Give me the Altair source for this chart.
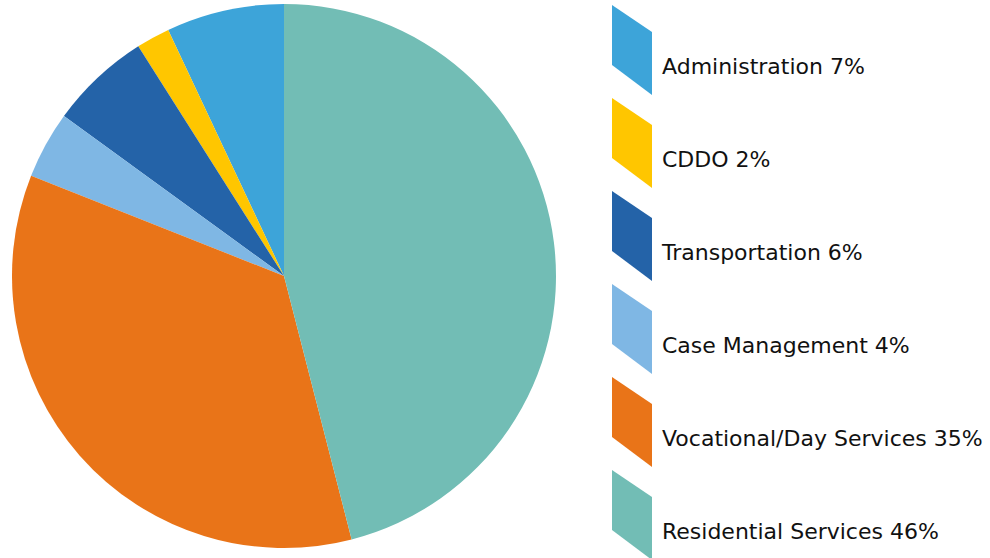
import altair as alt
import pandas as pd

categories = ["Administration", "CDDO", "Transportation", "Case Management",
              "Vocational/Day Services", "Residential Services"]
percents = [7, 2, 6, 4, 35, 46]
colors = ["#3DA4D9", "#FFC600", "#2463A8", "#7FB7E4", "#E97418", "#72BDB5"]
pie_order = [6, 5, 4, 3, 2, 1]  # clockwise from 12 o'clock

labels = [f"{c} {p}%" for c, p in zip(categories, percents)]
df = pd.DataFrame({"label": labels, "value": percents, "order": pie_order})

# parallelogram legend swatch, drawn above the label's centre line
shape = "M -0.8 -2.48 L 0.8 -1.4 L 0.8 1.12 L -0.8 -0.08 Z"

chart = alt.Chart(df).mark_arc(radius=272, stroke=None).encode(
    theta=alt.Theta("value:Q", stack=True),
    order=alt.Order("order:Q"),
    x=alt.value(284),
    y=alt.value(276),
    color=alt.Color(
        "label:N",
        scale=alt.Scale(domain=labels, range=colors),
        sort=labels,
        legend=alt.Legend(
            title=None,
            orient="none",
            legendX=607,
            legendY=42,
            symbolType=shape,
            symbolSize=2500,
            symbolStrokeWidth=0,
            symbolOpacity=1,
            labelFont="DejaVu Sans",
            labelFontSize=22,
            labelFontWeight="normal",
            labelColor="#111111",
            labelLimit=400,
            labelOffset=5,
            rowPadding=3,
        ),
    ),
).properties(
    width=990, height=558, padding=0, autosize=alt.AutoSizeParams(type="none")
).configure_view(stroke=None)

chart.save("out.html", embed_options={"renderer": "svg", "actions": False})
